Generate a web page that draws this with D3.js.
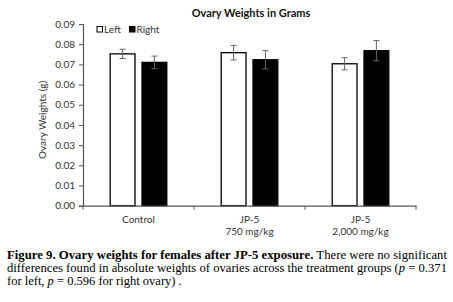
<!DOCTYPE html>
<html><head><meta charset="utf-8">
<script src="https://cdn.jsdelivr.net/npm/d3@7"></script>
<style>
html,body{margin:0;padding:0;background:#fff;}
svg{display:block;}
</style></head>
<body>
<svg id="c" width="453" height="302"></svg>
<script>
const categories = ["Control", "JP-5|750 mg/kg", "JP-5|2,000 mg/kg"];
const series = ["Left", "Right"];
const leftValues = [0.0752, 0.0758, 0.0703];
const rightValues = [0.0710, 0.0723, 0.0768];
const leftErrors = [0.0023, 0.0036, 0.0030];
const rightErrors = [0.0031, 0.0045, 0.0050];
const yTicks = [0, 0.01, 0.02, 0.03, 0.04, 0.05, 0.06, 0.07, 0.08, 0.09];
const title = "Ovary Weights in Grams";
const yLabel = "Ovary Weights (g)";

(function () {
const svg = d3.select("#c");
const sans = "Lato, 'Open Sans', sans-serif";
const pL = 83, pR = 416, pT = 24, pB = 205.7;

const x = d3.scaleBand().domain(categories).range([pL, pR]).padding(0);
const bw = x.bandwidth();
const xs = d3.scaleBand().domain(series).range([bw * 0.245, bw * 0.755]).paddingInner(0.22);
const y = d3.scaleLinear().domain([0, 0.09]).range([pB, pT]);

const data = [];
categories.forEach((c, i) => {
  data.push({cat: c, s: "Left", v: leftValues[i], e: leftErrors[i]});
  data.push({cat: c, s: "Right", v: rightValues[i], e: rightErrors[i]});
});
const fill = {Left: "#fff", Right: "#000"};

svg.append("g").selectAll("rect").data(data).join("rect")
  .attr("x", d => x(d.cat) + xs(d.s))
  .attr("y", d => y(d.v))
  .attr("width", xs.bandwidth())
  .attr("height", d => y(0) - y(d.v))
  .attr("fill", d => fill[d.s])
  .attr("stroke", "#000")
  .attr("stroke-width", 1.3);

const eg = svg.append("g").attr("stroke", "#666").attr("stroke-width", 1);
data.forEach(d => {
  const cx = x(d.cat) + xs(d.s) + xs.bandwidth() / 2;
  eg.append("line").attr("x1", cx).attr("x2", cx).attr("y1", y(d.v + d.e)).attr("y2", y(d.v - d.e));
  eg.append("line").attr("x1", cx - 3).attr("x2", cx + 3).attr("y1", y(d.v + d.e)).attr("y2", y(d.v + d.e));
  eg.append("line").attr("x1", cx - 3).attr("x2", cx + 3).attr("y1", y(d.v - d.e)).attr("y2", y(d.v - d.e));
});

const ya = svg.append("g").attr("transform", `translate(${pL},0)`)
  .call(d3.axisLeft(y).tickValues(yTicks).tickFormat(d3.format(".2f")).tickSize(4).tickPadding(4));
ya.select(".domain").attr("stroke", "#555").attr("stroke-width", 1.2);
ya.selectAll(".tick line").attr("stroke", "#555");
ya.selectAll("text").attr("font-family", sans).attr("font-size", 10).attr("fill", "#333");

const xa = svg.append("g").attr("transform", `translate(0,${pB})`)
  .call(d3.axisBottom(x).tickSize(0).tickFormat(""));
xa.select(".domain").attr("stroke", "#555").attr("stroke-width", 1.2);
const bounds = [pL].concat(categories.map(c => x(c) + bw));
svg.append("g").selectAll("line").data(bounds).join("line")
  .attr("x1", d => d).attr("x2", d => d).attr("y1", pB).attr("y2", pB + 4)
  .attr("stroke", "#555");
categories.forEach(c => {
  const parts = c.split("|");
  const t = svg.append("text").attr("text-anchor", "middle")
    .attr("font-family", sans).attr("font-size", 10).attr("fill", "#333");
  parts.forEach((p, i) => {
    t.append("tspan").attr("x", x(c) + bw / 2).attr("y", 223 + i * 12).text(p);
  });
});

svg.append("text").attr("x", 251).attr("y", 17).attr("text-anchor", "middle")
  .attr("font-family", sans).attr("font-weight", "bold").attr("font-size", 11).attr("fill", "#111")
  .text(title);

svg.append("text").attr("transform", `translate(46,${(pT + pB) / 2 + 5}) rotate(-90)`)
  .attr("text-anchor", "middle").attr("font-family", sans).attr("font-size", 10).attr("fill", "#333")
  .text(yLabel);

const lg = svg.append("g");
series.forEach((s, i) => {
  const lx = 97 + i * 32.5;
  lg.append("rect").attr("x", lx).attr("y", 26.5).attr("width", 5.5).attr("height", 5.5)
    .attr("fill", fill[s]).attr("stroke", "#000").attr("stroke-width", 1);
  lg.append("text").attr("x", lx + 7).attr("y", 32.5).attr("font-family", sans).attr("font-size", 10)
    .attr("fill", "#333").text(s);
});

const serif = "'Liberation Serif', 'Times New Roman', serif";
const cap = svg.append("g").attr("font-family", serif).attr("font-size", 12.5).attr("fill", "#000");
const l1 = cap.append("text").attr("x", 7).attr("y", 259).attr("textLength", 440).attr("lengthAdjust", "spacingAndGlyphs");
l1.append("tspan").attr("font-weight", "bold").text("Figure 9. Ovary weights for females after JP-5 exposure.");
l1.append("tspan").text(" There were no significant");
const l2 = cap.append("text").attr("x", 7).attr("y", 272).attr("textLength", 440).attr("lengthAdjust", "spacingAndGlyphs");
l2.append("tspan").text("differences found in absolute weights of ovaries across the treatment groups (");
l2.append("tspan").attr("font-style", "italic").text("p");
l2.append("tspan").text(" = 0.371");
const l3 = cap.append("text").attr("x", 7).attr("y", 285);
l3.append("tspan").text("for left, ");
l3.append("tspan").attr("font-style", "italic").text("p");
l3.append("tspan").text(" = 0.596 for right ovary) .");
})();
</script>
</body></html>
